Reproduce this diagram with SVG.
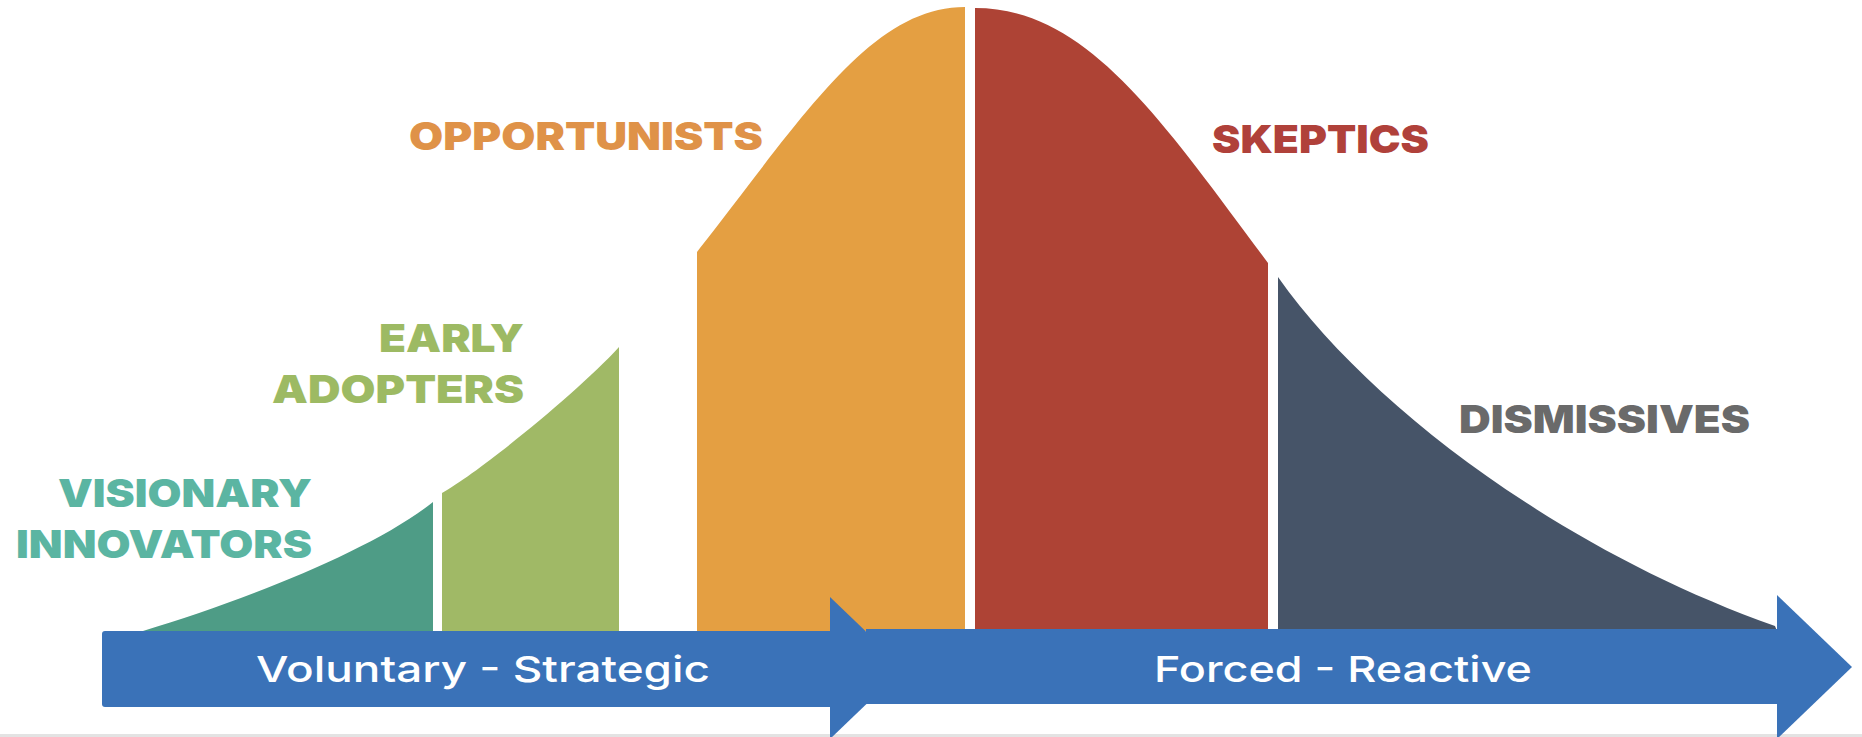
<svg xmlns="http://www.w3.org/2000/svg" width="1862" height="737" viewBox="0 0 1862 737">
<style>
.lbl{font-family:Inter,"Open Sans","Liberation Sans",sans-serif;font-weight:900;font-size:39px}
.bartext{font-family:Inter,"Open Sans","Liberation Sans",sans-serif;font-weight:500;font-size:36px;fill:#ffffff}
.arrow{fill:#3A72B8}
</style>
<rect width="1862" height="737" fill="#ffffff"/>
<rect x="0" y="734" width="1862" height="3" fill="#e3e3e3"/>

<g id="visionary-innovators">
<path d="M143,631 C243,601 373,550 433,502 L433,631 Z" fill="#4E9C86"/>
<text class="lbl" fill="#5BB5A2" x="58" y="507" textLength="254" lengthAdjust="spacingAndGlyphs">VISIONARY</text>
<text class="lbl" fill="#5BB5A2" x="16" y="558" textLength="296" lengthAdjust="spacingAndGlyphs">INNOVATORS</text>
</g>

<g id="early-adopters">
<path d="M442,493 C482,470 579,391 619,347 L619,631 L442,631 Z" fill="#A0B966"/>
<text class="lbl" fill="#9DBA63" x="379" y="352" textLength="145" lengthAdjust="spacingAndGlyphs">EARLY</text>
<text class="lbl" fill="#9DBA63" x="272" y="403" textLength="252" lengthAdjust="spacingAndGlyphs">ADOPTERS</text>
</g>

<g id="opportunists">
<path d="M697,252 L700,248 C805,114 872,7 965,7 L965,631 L697,631 Z" fill="#E49F42"/>
<text class="lbl" fill="#DF9248" x="409" y="150" textLength="354" lengthAdjust="spacingAndGlyphs">OPPORTUNISTS</text>
</g>

<g id="skeptics">
<path d="M975,8 C1085,8 1158,114.5 1268,263 L1268,631 L975,631 Z" fill="#AE4335"/>
<text class="lbl" fill="#B0413A" x="1212" y="153" textLength="217" lengthAdjust="spacingAndGlyphs">SKEPTICS</text>
</g>

<g id="dismissives">
<path d="M1278,277 C1368,405 1560,550 1775,626 L1777,631 L1278,631 Z" fill="#465468"/>
<text class="lbl" fill="#6A6A6A" x="1459" y="433" textLength="291" lengthAdjust="spacingAndGlyphs">DISMISSIVES</text>
</g>

<g id="connectors">
<g id="arrow-voluntary">
<rect class="arrow" x="102" y="631" width="732" height="76" rx="3"/>
<polygon class="arrow" points="830,597 904,668 830,739"/>
<text class="bartext" x="256" y="682" textLength="454" lengthAdjust="spacingAndGlyphs">Voluntary - Strategic</text>
</g>
<g id="arrow-forced">
<rect class="arrow" x="866" y="629" width="915" height="75"/>
<polygon class="arrow" points="1777,595 1852,667 1777,739"/>
<text class="bartext" x="1154" y="682" textLength="378" lengthAdjust="spacingAndGlyphs">Forced - Reactive</text>
</g>
</g>
</svg>
